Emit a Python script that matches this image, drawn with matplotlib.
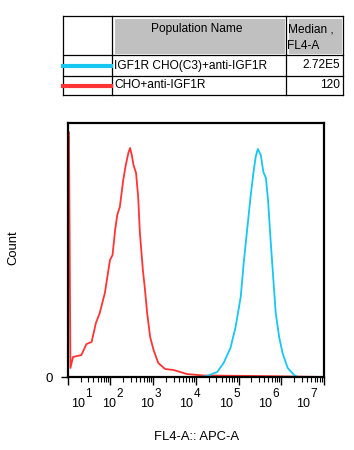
import numpy as np
import matplotlib
matplotlib.use("Agg")
import matplotlib.pyplot as plt
from matplotlib.patches import Rectangle
from matplotlib.lines import Line2D
from matplotlib.ticker import LogLocator, NullFormatter

plt.rcParams['font.family'] = ['Liberation Sans', 'DejaVu Sans']

# populations shown in the legend table
pop_names = ['IGF1R CHO(C3)+anti-IGF1R', 'CHO+anti-IGF1R']
pop_medians = ['2.72E5', '120']
pop_colors = ['#18C6F2', '#FF3535']

# histogram traces (x as log10 of FL4-A, y in counts)
red_logx = [1.00, 1.03, 1.064, 1.125, 1.32, 1.44, 1.56, 1.66, 1.75, 1.87, 1.99,
            2.05, 2.11, 2.16, 2.22, 2.30, 2.36, 2.42, 2.46, 2.50, 2.54, 2.60,
            2.65, 2.69, 2.76, 2.81, 2.86, 2.93, 3.01, 3.12, 3.28, 3.48, 3.79,
            4.18, 5.44, 6.29, 7.00]
red_count = [245, 245, 9, 20, 22, 33, 35, 54, 64, 84, 117,
             122, 147, 162, 170, 197, 212, 224, 229, 222, 212, 204,
             180, 144, 107, 87, 64, 40, 27, 14, 8, 7, 3,
             1.5, 1, 0.5, 0]

cyan_logx = [1.00, 4.11, 4.26, 4.50, 4.65, 4.81, 4.93, 5.05, 5.12, 5.20, 5.28,
             5.35, 5.40, 5.45, 5.52, 5.58, 5.64, 5.69, 5.75, 5.82, 5.87, 5.95,
             6.03, 6.15, 6.30, 6.38, 7.00]
cyan_count = [0, 0, 1, 5, 14, 29, 50, 80, 114, 147, 180,
              205, 220, 228, 222, 205, 199, 177, 137, 94, 64, 40,
              24, 9, 2, 0, 0]

decades = [1, 2, 3, 4, 5, 6, 7]

W, H = 354, 450
fig = plt.figure(figsize=(W / 100, H / 100), dpi=100)


def fx(x):
    return x / W


def fy(y):
    return 1 - y / H


# ---- legend table ----
cols = [63, 112, 286, 343]
rows = [16, 55, 76, 95]
for x0, x1 in [(112, 286), (286, 343)]:
    fig.patches.append(Rectangle((fx(x0 + 1.5), fy(rows[1] - 1.5)),
                                 fx(x1 - x0 - 3), (rows[1] - rows[0] - 3) / H,
                                 transform=fig.transFigure, facecolor='#C0C0C0',
                                 edgecolor='white', lw=0.8))
for x in cols:
    fig.add_artist(Line2D([fx(x), fx(x)], [fy(rows[0]), fy(rows[-1])], color='black', lw=0.9))
for y in rows:
    fig.add_artist(Line2D([fx(cols[0]), fx(cols[-1])], [fy(y), fy(y)], color='black', lw=0.9))

fig.text(fx(197), fy(29), 'Population Name', ha='center', va='center', fontsize=8.6)
fig.text(fx(287.5), fy(29), 'Median ,', ha='left', va='center', fontsize=8.6)
fig.text(fx(287.5), fy(46), 'FL4-A', ha='left', va='center', fontsize=8.6)
for i, (name, med, col) in enumerate(zip(pop_names, pop_medians, pop_colors)):
    yc = (rows[i + 1] + rows[i + 2]) / 2
    fig.add_artist(Line2D([fx(63), fx(111)], [fy(yc), fy(yc)], color=col, lw=3))
    fig.text(fx(114), fy(yc), name, ha='left', va='center', fontsize=8.6)
    fig.text(fx(340), fy(yc), med, ha='right', va='center', fontsize=8.6)

# ---- histogram ----
ax = fig.add_axes([fx(67.7), fy(377), (324 - 67.7) / W, (377 - 123) / H])
ax.plot(10 ** np.array(red_logx), red_count, color=pop_colors[1], lw=1.3)
ax.plot(10 ** np.array(cyan_logx), cyan_count, color=pop_colors[0], lw=1.3)

ax.set_xscale('log')
ax.set_xlim(10 ** 1, 10 ** 7)
ax.set_ylim(0, 254)
ax.xaxis.set_major_locator(LogLocator(base=10, numticks=10))
ax.xaxis.set_minor_locator(LogLocator(base=10, subs=np.arange(2, 10), numticks=20))
ax.xaxis.set_major_formatter(NullFormatter())
ax.xaxis.set_minor_formatter(NullFormatter())
ax.set_yticks([0])
ax.set_yticklabels(['0'], fontsize=9.5)
ax.tick_params(axis='x', which='major', length=6, width=1, direction='out')
ax.tick_params(axis='x', which='minor', length=3.5, width=0.8, direction='out')
ax.tick_params(axis='y', length=5, width=1, pad=6)
for s in ax.spines.values():
    s.set_linewidth(1.6)

# staggered decade labels under the axis ("10" plus raised exponent)
label_left = [72, 103, 141, 180, 220, 259, 297]
for k, xl in zip(decades, label_left):
    fig.text(fx(xl - 0.5), fy(407), '10', ha='left', va='baseline', fontsize=9)
    fig.text(fx(xl + 13.5), fy(397), str(k), ha='left', va='baseline', fontsize=8.5)

fig.text(fx(196), fy(437), 'FL4-A:: APC-A', ha='center', va='center', fontsize=9.4)
fig.text(fx(13), fy(248), 'Count', ha='center', va='center', rotation=90, fontsize=9.4)

fig.savefig('out.png', dpi=100)
